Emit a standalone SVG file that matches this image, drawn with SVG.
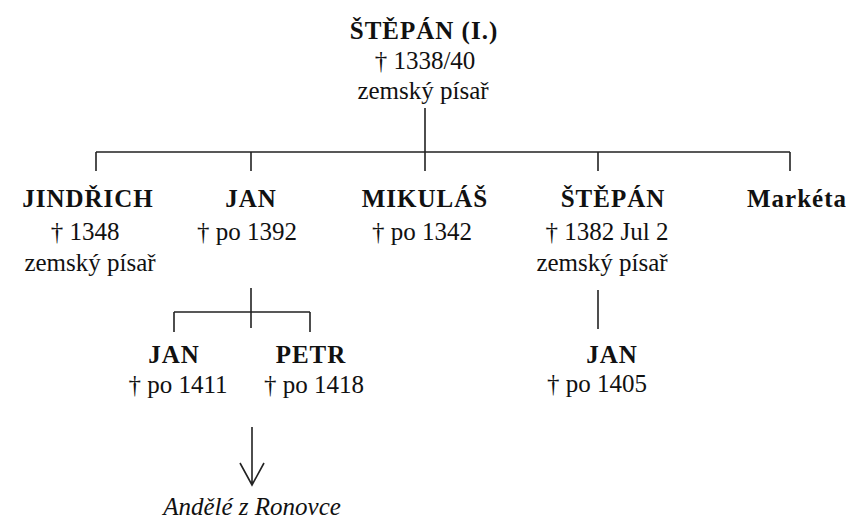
<svg xmlns="http://www.w3.org/2000/svg" width="846" height="520" viewBox="0 0 846 520">
<style>
text{font-family:"Liberation Serif","Times New Roman",serif;font-size:25px;fill:#111;text-anchor:middle}
.b{font-weight:bold;letter-spacing:1px}
.i{font-style:italic}
.ln{stroke:#222;stroke-width:1.6;fill:none}
</style>
<rect width="846" height="520" fill="#fff"/>
<g id="connectors">
<path class="ln" d="M425 108V152M96 152H790M96 152V171M251 152V171M425 152V171M598 152V171M790 152V171"/>
<path class="ln" d="M251 288V328M174 312H310M174 312V332M310 312V332"/>
<path class="ln" d="M598 290V329"/>
<path class="ln" d="M252 427V485M240 463L252 485L264 463"/>
</g>
<g id="stepan1"><text class="b" x="424" y="39">ŠTĚPÁN (I.)</text><text x="425" y="69">† 1338/40</text><text x="423" y="99">zemský písař</text></g>
<g id="jindrich"><text class="b" x="88" y="207">JINDŘICH</text><text x="85" y="240">† 1348</text><text x="90" y="271">zemský písař</text></g>
<g id="jan1"><text class="b" x="251" y="207">JAN</text><text x="247" y="240">† po 1392</text></g>
<g id="mikulas"><text class="b" x="425" y="207">MIKULÁŠ</text><text x="422" y="240">† po 1342</text></g>
<g id="stepan2"><text class="b" x="613" y="207">ŠTĚPÁN</text><text x="607" y="240">† 1382 Jul 2</text><text x="602" y="271">zemský písař</text></g>
<g id="marketa"><text class="b" x="797" y="207">Markéta</text></g>
<g id="jan2"><text class="b" x="174" y="363">JAN</text><text x="178" y="393">† po 1411</text></g>
<g id="petr"><text class="b" x="311" y="363">PETR</text><text x="314" y="393">† po 1418</text></g>
<g id="jan3"><text class="b" x="612" y="363">JAN</text><text x="597" y="392">† po 1405</text></g>
<g id="andele"><text class="i" x="252" y="515">Andělé z Ronovce</text></g>
</svg>
